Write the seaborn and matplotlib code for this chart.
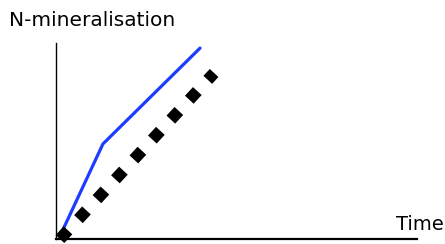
import numpy as np
import pandas as pd
import matplotlib
matplotlib.use('Agg')
import matplotlib.pyplot as plt
import seaborn as sns

sns.set_style('white')
plt.rcParams['font.family'] = ['DejaVu Sans']

# 数据
blue_x = [0.11, 1.3, 3.99]
blue_y = [0.15, 4.85, 9.74]
black_x = [0.11, 4.38]
black_y = [0.0, 8.47]

fig = plt.figure(figsize=(4.45, 2.44), dpi=100)
ax = fig.add_axes([56 / 445, 5 / 244, 361 / 445, 196 / 244])

df_blue = pd.DataFrame({'x': blue_x, 'y': blue_y})
df_black = pd.DataFrame({'x': black_x, 'y': black_y})

sns.lineplot(x='x', y='y', data=df_blue, ax=ax, color='#1c3cff', linewidth=2.3,
             sort=False, clip_on=False)
sns.lineplot(x='x', y='y', data=df_black, ax=ax, color='black', linewidth=8.5,
             linestyle=(0, (1, 1.3)), dash_capstyle='butt', sort=False, clip_on=False)

ax.set_xlim(0, 10)
ax.set_ylim(0, 10)
ax.set_xticks([])
ax.set_yticks([])
ax.set_xlabel('')
ax.set_ylabel('')
for s in ['top', 'right']:
    ax.spines[s].set_visible(False)
ax.spines['left'].set_color('black')
ax.spines['left'].set_linewidth(1.0)
ax.spines['bottom'].set_color('black')
ax.spines['bottom'].set_linewidth(1.6)

fig.text(9 / 445, 1 - 21 / 244, 'N-mineralisation', fontsize=14.5, va='center', ha='left', color='black')
fig.text(1 - 1 / 445, 1 - 225 / 244, 'Time', fontsize=14, va='center', ha='right', color='black')

plt.savefig('out.png', dpi=100)
